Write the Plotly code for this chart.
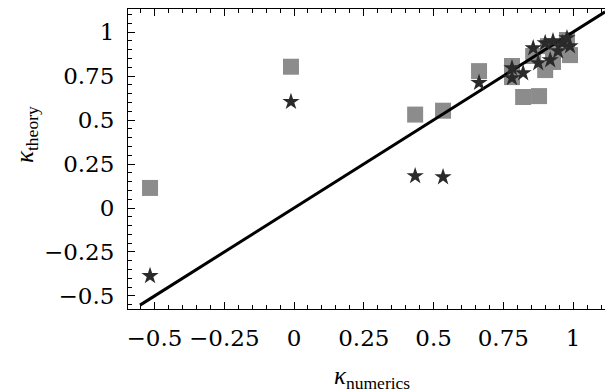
import plotly.graph_objects as go

# Squares (grey): kappa_numerics, kappa_theory
sq_num = [-0.516, -0.011, 0.434, 0.534, 0.663, 0.781, 0.781, 0.821, 0.878, 0.857,
          0.910, 0.928, 0.978, 0.989, 0.900, 0.950]
sq_th = [0.114, 0.803, 0.531, 0.553, 0.778, 0.807, 0.744, 0.631, 0.636, 0.864,
         0.920, 0.830, 0.955, 0.869, 0.784, 0.900]

# Stars (dark)
st_num = [-0.516, -0.011, 0.434, 0.534, 0.663, 0.857, 0.875, 0.918, 0.781, 0.821,
          0.781, 0.900, 0.928, 0.961, 0.978, 0.946, 0.989]
st_th = [-0.386, 0.604, 0.182, 0.176, 0.712, 0.909, 0.824, 0.841, 0.795, 0.767,
         0.739, 0.938, 0.949, 0.938, 0.966, 0.892, 0.920]

# Diagonal reference line kappa_theory = kappa_numerics
line_x = [-0.552, 1.115]
line_y = [-0.552, 1.115]

tick_vals = [-0.5, -0.25, 0, 0.25, 0.5, 0.75, 1]
tick_text = ["\u22120.5", "\u22120.25", "0", "0.25", "0.5", "0.75", "1"]

TICKFONT = "DejaVu Serif"
TITLEFONT = "Liberation Serif"

# page has an 8px body margin; figure fills the rest of the 613x390 window
W, H = 605, 382
L, R, T, B = 120, 0, 1, 81
PW, PH = W - L - R, H - T - B

fig = go.Figure()
fig.add_trace(go.Scatter(x=sq_num, y=sq_th, mode="markers",
                         marker=dict(symbol="square", size=16, color="#8c8c8c", line=dict(width=0)),
                         showlegend=False))
fig.add_trace(go.Scatter(x=line_x, y=line_y, mode="lines",
                         line=dict(color="black", width=3), showlegend=False))
fig.add_trace(go.Scatter(x=st_num, y=st_th, mode="markers",
                         marker=dict(symbol="star", size=13, color="#2a2a2a", line=dict(width=0)),
                         showlegend=False))

axis_common = dict(
    showgrid=False, zeroline=False, showline=True, linecolor="black", linewidth=1,
    mirror="ticks", ticks="inside", ticklen=7, tickcolor="black", tickwidth=1,
    tickvals=tick_vals, ticktext=tick_text,
    tickfont=dict(family=TICKFONT, size=23, color="black"),
    minor=dict(ticks="inside", ticklen=4, dtick=0.05, tickcolor="black", tickwidth=1),
)

fig.update_xaxes(range=[-0.595, 1.143], ticklabelstandoff=8, **axis_common)
fig.update_yaxes(range=[-0.574, 1.131], ticklabelstandoff=8, **axis_common)


def px(xpage):
    return (xpage - 8 - L) / PW


def py(ypage):
    return 1 - (ypage - 8 - T) / PH


fig.update_layout(
    width=W, height=H,
    margin=dict(l=L, r=R, t=T, b=B, pad=0),
    paper_bgcolor="white", plot_bgcolor="white",
    font=dict(family=TITLEFONT, color="black"),
    annotations=[
        dict(text="<i>\u03ba</i><sub>numerics</sub>", xref="paper", yref="paper",
             x=px(372), y=py(377), xanchor="center", yanchor="middle",
             showarrow=False, font=dict(family=TITLEFONT, size=25, color="black")),
        dict(text="<i>\u03ba</i><sub>theory</sub>", xref="paper", yref="paper",
             x=px(27), y=py(135), xanchor="center", yanchor="middle",
             textangle=-90, showarrow=False, font=dict(family=TITLEFONT, size=25, color="black")),
    ],
)

fig.write_html("out.html")
